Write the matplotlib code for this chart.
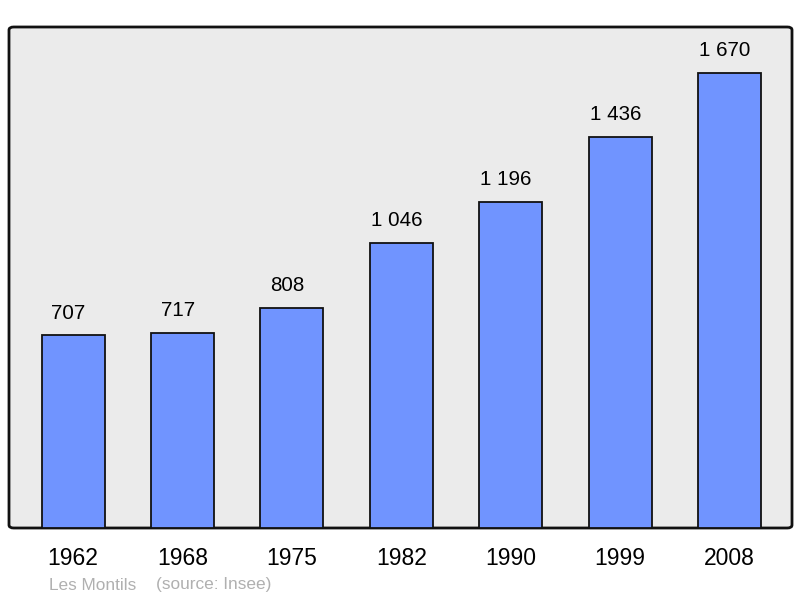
import matplotlib
matplotlib.use("Agg")
import matplotlib.pyplot as plt
from matplotlib.patches import FancyBboxPatch

years = ["1962", "1968", "1975", "1982", "1990", "1999", "2008"]
population = [707, 717, 808, 1046, 1196, 1436, 1670]
value_labels = ["707", "717", "808", "1 046", "1 196", "1 436", "1 670"]

plt.rcParams['font.family'] = ['Liberation Sans', 'DejaVu Sans']

fig = plt.figure(figsize=(8.0, 5.98), dpi=100)
W, H = 800, 598
ax = fig.add_axes([9 / W, 1 - 528 / H, (792 - 9) / W, (528 - 27) / H])
ax.set_facecolor('none')

x = list(range(len(years)))
ax.bar(x, population, width=0.576, color='#7094FF', edgecolor='#111111',
       linewidth=1.3, zorder=3)

for xi, v, lab in zip(x, population, value_labels):
    ax.annotate(lab, (xi, v), xytext=(-3.3, 9), textcoords='offset points',
                ha='center', va='bottom', fontsize=14.8, color='#000000')

ax.set_xlim(-0.585, 6.57)
ax.set_ylim(0, 1838)
ax.set_xticks(x)
ax.set_xticklabels(years, fontsize=16.5, color='#000000')
ax.tick_params(axis='x', length=0, pad=14)
ax.set_yticks([])
for s in ax.spines.values():
    s.set_visible(False)

frame = FancyBboxPatch((0, 0), 1, 1, boxstyle="round,pad=0,rounding_size=0.006",
                       transform=ax.transAxes, facecolor='#EBEBEB',
                       edgecolor='#111111', linewidth=2, zorder=0, clip_on=False)
ax.add_patch(frame)

fig.text(49 / W, 1 - 585 / H, "Les Montils", fontsize=12.4, color='#B0B0B0',
         ha='left', va='center')
fig.text(156 / W, 1 - 585 / H, "(source: Insee)", fontsize=12.4, color='#B0B0B0',
         ha='left', va='center')

fig.savefig("out.png", dpi=100)
